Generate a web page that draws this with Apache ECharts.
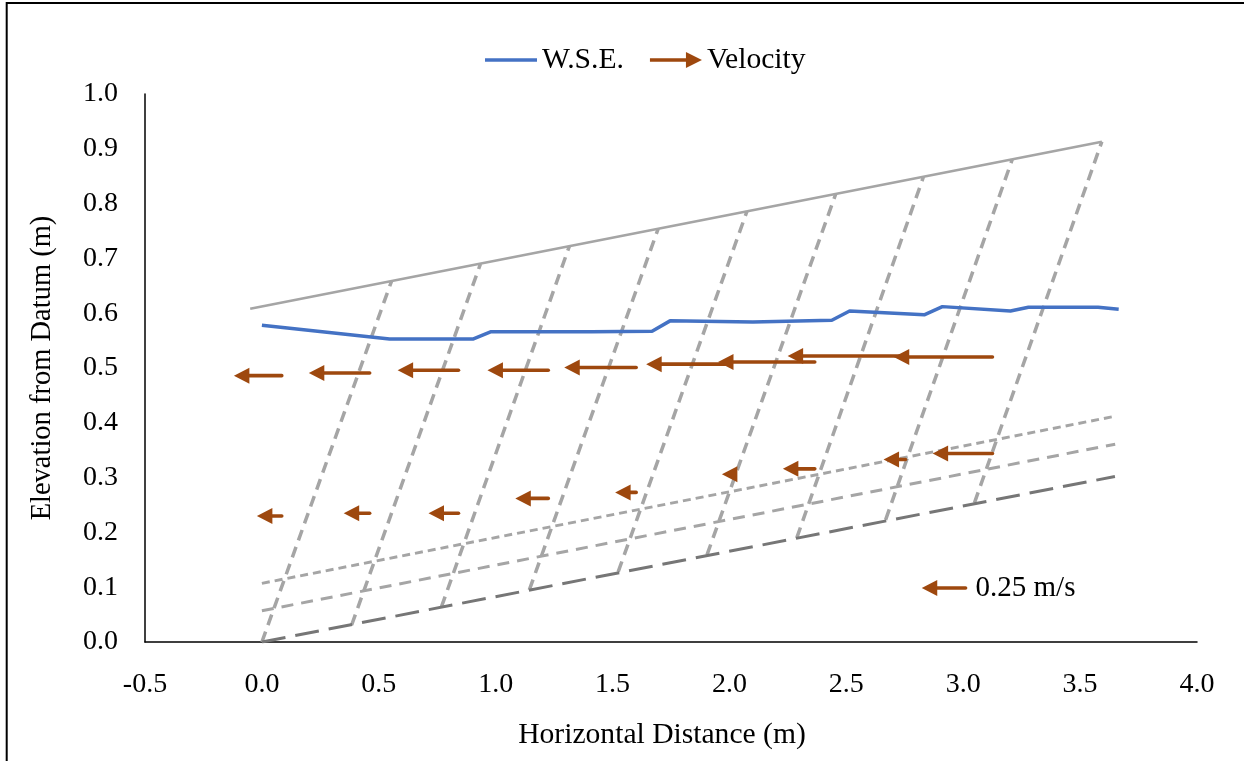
<!DOCTYPE html>
<html>
<head>
<meta charset="utf-8">
<script src="https://cdn.jsdelivr.net/npm/echarts@6/dist/echarts.min.js"></script>
<style>
html,body{margin:0;padding:0;background:#fff;}
#chart{width:1244px;height:761px;}
</style>
</head>
<body>
<div id="chart"></div>
<script>
// ---------- DATA ----------
const xTicks = [-0.5, 0.0, 0.5, 1.0, 1.5, 2.0, 2.5, 3.0, 3.5, 4.0];
const yTicks = [0.0, 0.1, 0.2, 0.3, 0.4, 0.5, 0.6, 0.7, 0.8, 0.9, 1.0];

// Water surface elevation
const wseX = [0, 0.546, 0.905, 0.978, 1.409, 1.669, 1.746, 2.10, 2.438, 2.514, 2.833, 2.911, 3.202, 3.279, 3.577, 3.665];
const wseY = [0.578, 0.553, 0.553, 0.566, 0.566, 0.567, 0.586, 0.584, 0.587, 0.604, 0.597, 0.612, 0.604, 0.611, 0.611, 0.607];

// Velocity measurements (tail x position, elevation, velocity magnitude in m/s, pointing upstream)
const velTailX  = [0.085, 0.461, 0.841, 1.225, 1.601, 1.985, 2.365, 2.753, 3.125];
const velUpperY = [0.486, 0.491, 0.496, 0.496, 0.501, 0.507, 0.511, 0.522, 0.520];
const velUpperV = [0.273, 0.347, 0.347, 0.347, 0.410, 0.455, 0.552, 0.672, 0.563];
const velLowerY = [0.230, 0.235, 0.235, 0.262, 0.273, 0.306, 0.316, 0.333, 0.344];
const velLowerV = [0.142, 0.148, 0.171, 0.188, 0.120, 0.023, 0.182, 0.125, 0.341];
const refVelocity = 0.25;   // m/s, key arrow
const VEL_SCALE = 0.75;     // plot metres per m/s

// Grid geometry lines
const wallX = [-0.05, 3.593];
const wallY = [0.608, 0.913];
const bedX = [0, 3.649];
const bedY = [0, 0.302];
const midX = [0, 3.65];
const midY = [0.057, 0.361];
const upX = [0, 3.65];
const upY = [0.107, 0.412];
const skewBotX = [0, 0.384, 0.768, 1.144, 1.524, 1.904, 2.288, 2.668, 3.048];
const skewBotY = [0, 0.031, 0.064, 0.095, 0.128, 0.159, 0.190, 0.223, 0.254];
const skewTopX = [0.555, 0.935, 1.315, 1.695, 2.075, 2.455, 2.830, 3.210, 3.593];
const skewTopY = [0.659, 0.690, 0.722, 0.754, 0.786, 0.818, 0.849, 0.881, 0.913];

// ---------- STYLE ----------
const FONT = "'Liberation Serif', 'Times New Roman', serif";
const FS = 28;
const FS_T = 29.6;
const ARROW_COLOR = '#9E480E';
const GRAY = '#A5A5A5';
const DARK = '#767676';

const zip = (xs, ys) => xs.map((x, i) => [x, ys[i]]);

function arrowRender(params, api) {
  const tx = api.value(0), y = api.value(1), v = api.value(2);
  const tail = api.coord([tx, y]);
  const head = api.coord([tx - v * VEL_SCALE, y]);
  const L = 15.5, H = 8;
  const back = head[0] + L;
  const children = [];
  if (tail[0] > back - 1) {
    children.push({
      type: 'line',
      shape: { x1: tail[0], y1: tail[1], x2: back - 1, y2: head[1] },
      style: { stroke: ARROW_COLOR, lineWidth: 3.6, lineCap: 'round' }
    });
  }
  children.push({
    type: 'polygon',
    shape: { points: [[head[0], head[1]], [back, head[1] - H], [back, head[1] + H]] },
    style: { fill: ARROW_COLOR }
  });
  if (params.seriesName === 'key') {
    children.push({
      type: 'text',
      style: { text: '0.25 m/s', x: tail[0] + 10, y: tail[1], font: '29px ' + FONT, fill: '#000', verticalAlign: 'middle', textVerticalAlign: 'middle', align: 'left' }
    });
  }
  return { type: 'group', children: children };
}

const lineSeries = (data, color, width, type, z) => ({
  type: 'line', data: data, symbol: 'none', silent: true, z: z || 2,
  lineStyle: { color: color, width: width, type: type },
  animation: false
});

const series = [];
for (let i = 0; i < skewBotX.length; i++) {
  series.push(lineSeries([[skewBotX[i], skewBotY[i]], [skewTopX[i], skewTopY[i]]], GRAY, 3.5, [11, 7], 2));
}
series.push(lineSeries(zip(wallX, wallY), GRAY, 2.6, 'solid', 2));
series.push(lineSeries(zip(upX, upY), GRAY, 3, [8, 5], 2));
series.push(lineSeries(zip(midX, midY), GRAY, 3, [12, 8], 2));
series.push(lineSeries(zip(bedX, bedY), DARK, 3, [24, 10], 2));

series.push({
  name: 'W.S.E.', type: 'line', data: zip(wseX, wseY), symbol: 'none', showSymbol: false, z: 5,
  lineStyle: { color: '#4472C4', width: 3.5 }, itemStyle: { color: '#4472C4' }, animation: false
});

const velData = [];
velTailX.forEach((x, i) => { velData.push([x, velUpperY[i], velUpperV[i]]); });
velTailX.forEach((x, i) => { velData.push([x, velLowerY[i], velLowerV[i]]); });

series.push({
  name: 'Velocity', type: 'custom', renderItem: arrowRender, data: velData, z: 6,
  itemStyle: { color: ARROW_COLOR }, encode: { x: 0, y: 1 }, animation: false, clip: false
});
series.push({
  name: 'key', type: 'custom', renderItem: arrowRender, data: [[3.01, 0.0985, refVelocity]], z: 6,
  itemStyle: { color: ARROW_COLOR }, encode: { x: 0, y: 1 }, animation: false, clip: false
});

const chart = echarts.init(document.getElementById('chart'), null, { renderer: 'canvas' });
chart.setOption({
  backgroundColor: '#fff',
  animation: false,
  grid: { left: 145, right: 47, top: 94, bottom: 119, containLabel: false },
  legend: {
    left: 480, top: 40, itemWidth: 52, itemHeight: 16, itemGap: 26,
    textStyle: { fontFamily: FONT, fontSize: FS_T, color: '#000' },
    data: [
      { name: 'W.S.E.', icon: 'path://M0,6.2 L52,6.2 L52,9.8 L0,9.8 Z', itemStyle: { color: '#4472C4' } },
      { name: 'Velocity', icon: 'path://M0,6.2 L36,6.2 L36,0 L52,8 L36,16 L36,9.8 L0,9.8 Z' }
    ]
  },
  xAxis: {
    type: 'value', min: xTicks[0], max: xTicks[xTicks.length - 1], interval: xTicks[1] - xTicks[0],
    name: 'Horizontal Distance (m)', nameLocation: 'middle', nameGap: 78,
    nameTextStyle: { fontFamily: FONT, fontSize: FS_T, color: '#000', padding: [0, 18, 0, 0] },
    axisLine: { onZero: false, lineStyle: { color: '#000', width: 1.5 } },
    axisTick: { show: false }, splitLine: { show: false },
    axisLabel: { fontFamily: FONT, fontSize: FS, color: '#000', margin: 29, formatter: v => v.toFixed(1) }
  },
  yAxis: {
    type: 'value', min: yTicks[0], max: yTicks[yTicks.length - 1], interval: 0.1,
    name: 'Elevation from Datum (m)', nameLocation: 'middle', nameGap: 88,
    nameTextStyle: { fontFamily: FONT, fontSize: 28.5, color: '#000' },
    axisLine: { show: true, onZero: false, lineStyle: { color: '#000', width: 1.5 } },
    axisTick: { show: false }, splitLine: { show: false },
    axisLabel: { fontFamily: FONT, fontSize: FS, color: '#000', margin: 27, formatter: v => v.toFixed(1) }
  },
  graphic: [{
    type: 'rect', silent: true, z: 100,
    shape: { x: 6.7, y: 3, width: 1300, height: 800 },
    style: { fill: 'none', stroke: '#000', lineWidth: 2 }
  }],
  series: series
});
</script>
</body>
</html>
